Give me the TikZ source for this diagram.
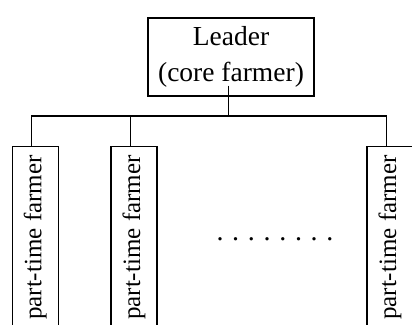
\documentclass[tikz,border=0pt]{standalone}
\usepackage{fontspec}
\setmainfont{Liberation Serif}
\begin{document}
\begin{tikzpicture}[x=1pt,y=-1pt,line width=1.3pt,
  leaderbox/.style={draw,minimum width=166pt,minimum height=78pt,align=center,inner sep=0pt,
    font=\fontsize{27.5}{36}\selectfont},
  farmerbox/.style={draw,rotate=90,anchor=east,minimum width=182pt,minimum height=46pt,inner sep=0pt,
    font=\fontsize{25}{30}\selectfont},
  dotstext/.style={anchor=base,inner sep=0pt,font=\fontsize{28}{32}\selectfont}]
\useasboundingbox (0,0) rectangle (412,324);
\clip (0,0) rectangle (412,324);
\node[leaderbox] (leader) at (231,57) {Leader\\(core farmer)};
\coordinate (bar) at (0,116);
\node[farmerbox] (p1) at (35.3,146) {part-time farmer};
\node[farmerbox] (p2) at (134,146) {part-time farmer};
\node[farmerbox] (p3) at (390,146) {part-time farmer};
\node[dotstext] (dots) at (275,240.5) {.\hspace{8.7pt}.\hspace{8.7pt}.\hspace{8.7pt}.\hspace{8.7pt}.\hspace{8.7pt}.\hspace{8.7pt}.\hspace{8.7pt}.};
\draw ([xshift=-2.7pt,yshift=11pt]leader.south) -- ([xshift=-2.7pt]leader.south |- bar);
\draw ([xshift=-3.8pt]p1.east) -- ([xshift=-3.8pt]p1.east |- bar) -- ([xshift=-3.3pt]p3.east |- bar) -- ([xshift=-3.3pt]p3.east);
\draw ([xshift=-3.8pt]p2.east) -- ([xshift=-3.8pt]p2.east |- bar);
\end{tikzpicture}
\end{document}
